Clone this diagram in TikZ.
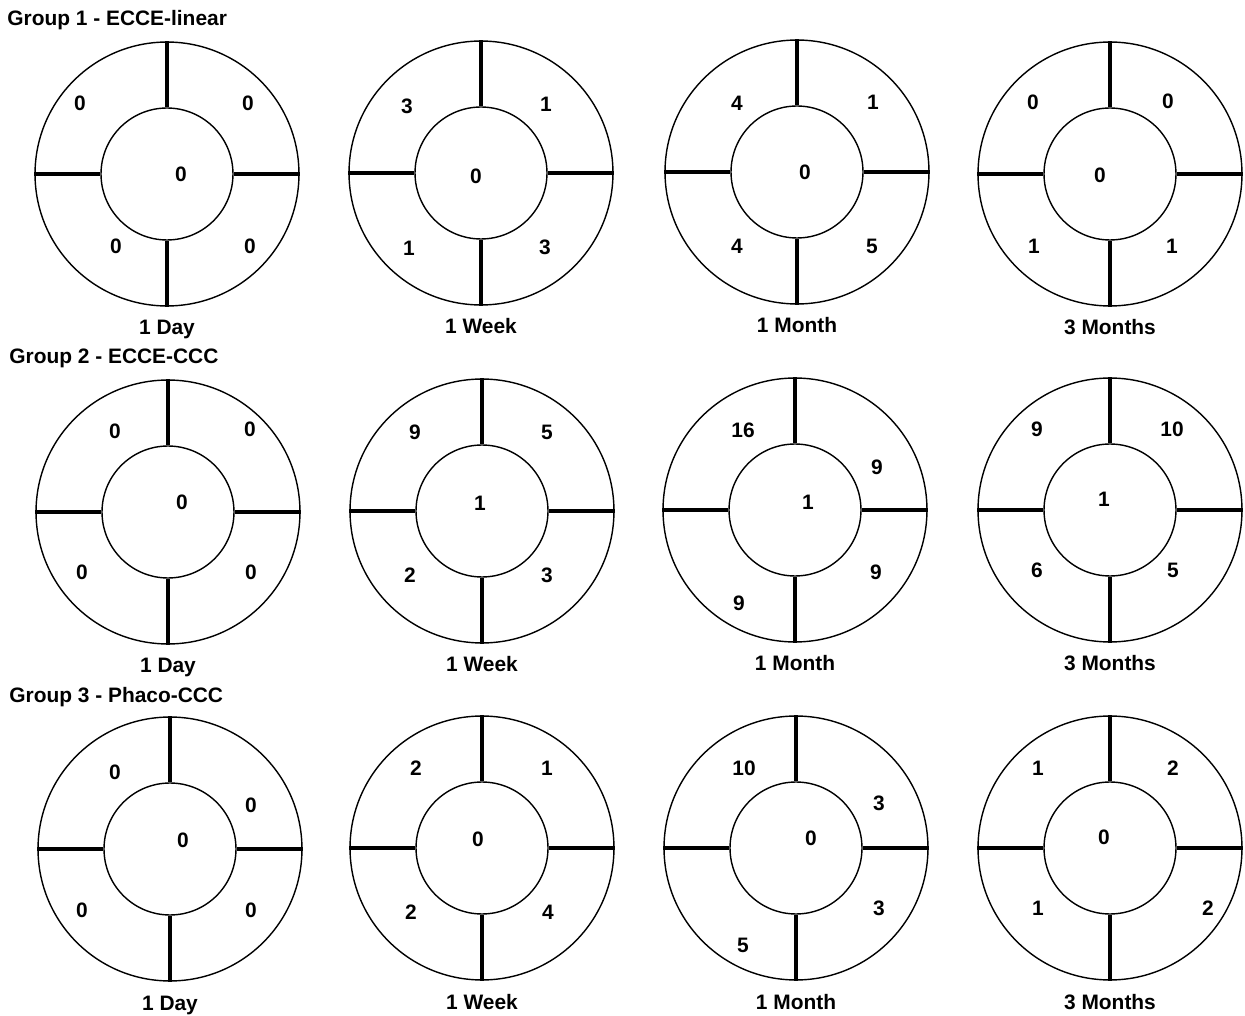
\documentclass[tikz,border=0pt]{standalone}
\usepackage{fontspec}
\setmainfont{Liberation Sans}
\usetikzlibrary{positioning}

\begin{document}
\begin{tikzpicture}[x=0.02cm, y=-0.02cm, every node/.style={font=\fontsize{11.9}{14}\selectfont\bfseries}]
		\tikzstyle{ring}=[draw=black, circle, line width=0.8pt, minimum size=5.28cm, inner sep=0pt]
		\tikzstyle{pupil}=[draw=black, circle, line width=0.8pt, minimum size=2.64cm, inner sep=0pt]
		\tikzstyle{spoke}=[draw=black, line width=1.9pt]
		\tikzstyle{grp}=[anchor=base west, inner sep=0pt, text=black]
		\tikzstyle{visit}=[anchor=base, inner sep=0pt, text=black]
		\tikzstyle{cnt}=[inner sep=0pt, text=black]
		
		\useasboundingbox (0,0) rectangle (1245,1016);
		
		%% group titles
		\node [grp] (G1) at (7,26) {Group 1 - ECCE-linear};
		\node [grp] (G2) at (9,364) {Group 2 - ECCE-CCC};
		\node [grp] (G3) at (9,703) {Group 3 - Phaco-CCC};
		
		%% rings, pupils and spokes
		\foreach \cx/\cy/\nm/\lab in {167/174/a1/1 Day, 481/173/a2/1 Week, 797/172/a3/1 Month, 1110/174/a4/3 Months,
			168/512/b1/1 Day, 482/511/b2/1 Week, 795/510/b3/1 Month, 1110/510/b4/3 Months,
			170/849/c1/1 Day, 482/848/c2/1 Week, 796/848/c3/1 Month, 1110/848/c4/3 Months}{
			\node [ring] (o\nm) at (\cx,\cy) {};
			\node [pupil] (i\nm) at (\cx,\cy) {};
			\draw [spoke] (o\nm.north) -- (i\nm.north);
			\draw [spoke] (o\nm.south) -- (i\nm.south);
			\draw [spoke] (o\nm.west) -- (i\nm.west);
			\draw [spoke] (o\nm.east) -- (i\nm.east);
			\node [visit] (l\nm) at (\cx,\cy+161) {\lab};
		}
		
		%% Group 1
		\node [cnt] (a1nw) at (80,103) {0};
		\node [cnt] (a1ne) at (248,103) {0};
		\node [cnt] (a1c) at (181,174) {0};
		\node [cnt] (a1sw) at (116,246) {0};
		\node [cnt] (a1se) at (250,246) {0};
		
		\node [cnt] (a2nw) at (407,106) {3};
		\node [cnt] (a2ne) at (546,104) {1};
		\node [cnt] (a2c) at (476,176) {0};
		\node [cnt] (a2sw) at (409,248) {1};
		\node [cnt] (a2se) at (545,247) {3};
		
		\node [cnt] (a3nw) at (737,103) {4};
		\node [cnt] (a3ne) at (873,102) {1};
		\node [cnt] (a3c) at (805,172) {0};
		\node [cnt] (a3sw) at (737,246) {4};
		\node [cnt] (a3se) at (872,246) {5};
		
		\node [cnt] (a4nw) at (1033,102) {0};
		\node [cnt] (a4ne) at (1168,101) {0};
		\node [cnt] (a4c) at (1100,175) {0};
		\node [cnt] (a4sw) at (1034,246) {1};
		\node [cnt] (a4se) at (1172,246) {1};
		
		%% Group 2
		\node [cnt] (b1nw) at (115,431) {0};
		\node [cnt] (b1ne) at (250,429) {0};
		\node [cnt] (b1c) at (182,502) {0};
		\node [cnt] (b1sw) at (82,572) {0};
		\node [cnt] (b1se) at (251,572) {0};
		
		\node [cnt] (b2nw) at (415,432) {9};
		\node [cnt] (b2ne) at (547,432) {5};
		\node [cnt] (b2c) at (480,503) {1};
		\node [cnt] (b2sw) at (410,575) {2};
		\node [cnt] (b2se) at (547,575) {3};
		
		\node [cnt] (b3nw) at (743,430) {16};
		\node [cnt] (b3ne) at (877,467) {9};
		\node [cnt] (b3c) at (808,502) {1};
		\node [cnt] (b3se) at (876,572) {9};
		\node [cnt] (b3sw) at (739,603) {9};
		
		\node [cnt] (b4nw) at (1037,429) {9};
		\node [cnt] (b4ne) at (1172,429) {10};
		\node [cnt] (b4c) at (1104,499) {1};
		\node [cnt] (b4sw) at (1037,570) {6};
		\node [cnt] (b4se) at (1173,570) {5};
		
		%% Group 3
		\node [cnt] (c1nw) at (115,772) {0};
		\node [cnt] (c1ne) at (251,805) {0};
		\node [cnt] (c1c) at (183,840) {0};
		\node [cnt] (c1sw) at (82,910) {0};
		\node [cnt] (c1se) at (251,910) {0};
		
		\node [cnt] (c2nw) at (416,768) {2};
		\node [cnt] (c2ne) at (547,768) {1};
		\node [cnt] (c2c) at (478,839) {0};
		\node [cnt] (c2sw) at (411,912) {2};
		\node [cnt] (c2se) at (548,912) {4};
		
		\node [cnt] (c3nw) at (744,768) {10};
		\node [cnt] (c3ne) at (879,803) {3};
		\node [cnt] (c3c) at (811,838) {0};
		\node [cnt] (c3se) at (879,908) {3};
		\node [cnt] (c3sw) at (743,945) {5};
		
		\node [cnt] (c4nw) at (1038,768) {1};
		\node [cnt] (c4ne) at (1173,768) {2};
		\node [cnt] (c4c) at (1104,837) {0};
		\node [cnt] (c4sw) at (1038,908) {1};
		\node [cnt] (c4se) at (1208,908) {2};
		
\end{tikzpicture}
\end{document}
